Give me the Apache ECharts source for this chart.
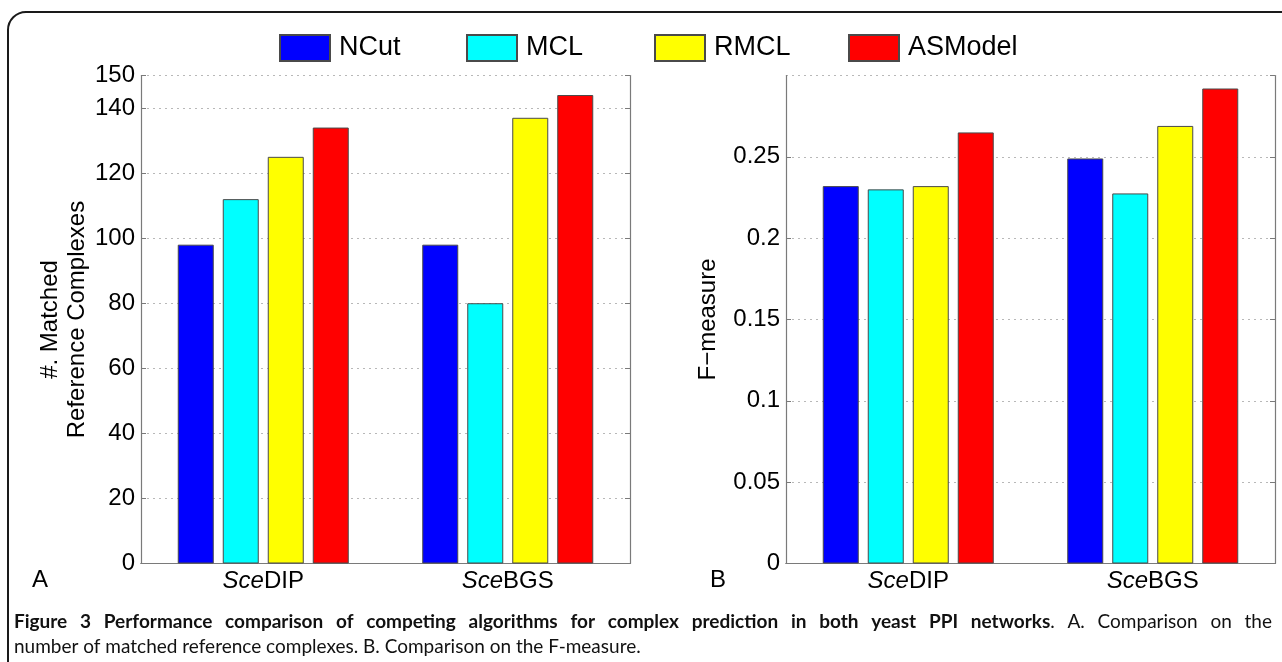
<!DOCTYPE html>
<html>
<head>
<meta charset="utf-8">
<script src="https://cdn.jsdelivr.net/npm/echarts@6/dist/echarts.min.js"></script>
<style>
html,body{margin:0;padding:0;background:#fff;}
#chart{width:1282px;height:662px;}
</style>
</head>
<body>
<div id="chart"></div>
<script>
// ---- data ----
const categories = ['SceDIP', 'SceBGS'];
const seriesNames = ['NCut', 'MCL', 'RMCL', 'ASModel'];
const seriesColors = ['#0000FF', '#00FFFF', '#FFFF00', '#FF0000'];
// Panel A: # matched reference complexes
const matchedNCut = [98, 98];
const matchedMCL = [112, 80];
const matchedRMCL = [125, 137];
const matchedASModel = [134, 144];
// Panel B: F-measure
const fNCut = [0.232, 0.249];
const fMCL = [0.230, 0.2275];
const fRMCL = [0.232, 0.269];
const fASModel = [0.265, 0.292];

const captionBold = 'Figure 3 Performance comparison of competing algorithms for complex prediction in both yeast PPI networks';
const captionRest1 = '. A. Comparison on the';
const captionLine2 = 'number of matched reference complexes. B. Comparison on the F-measure.';

// ---- chart ----
const chart = echarts.init(document.getElementById('chart'), null, {renderer: 'canvas'});
const FONT = '"Liberation Sans", Arial, Helvetica, sans-serif';
const axisGray = '#7a7a7a';

const grids = [
  {left: 141, top: 75.5, width: 489, height: 488},
  {left: 786, top: 75.5, width: 489, height: 488}
];

function catLabel(v) {
  return '{i|' + v.slice(0, 3) + '}{n|' + v.slice(3) + '}';
}
const richCat = {
  i: {fontStyle: 'italic', fontFamily: FONT, fontSize: 24, color: '#000'},
  n: {fontFamily: FONT, fontSize: 24, color: '#000'}
};

const xAxes = [];
const yAxes = [];
[0, 1].forEach(g => {
  xAxes.push({
    type: 'category', gridIndex: g, data: categories, position: 'bottom',
    axisLine: {lineStyle: {color: axisGray, width: 1.2}},
    axisTick: {inside: true, alignWithLabel: true, length: 5, lineStyle: {color: axisGray}},
    axisLabel: {formatter: catLabel, rich: richCat, margin: 6}
  });
  xAxes.push({
    type: 'category', gridIndex: g, data: categories, position: 'top',
    axisLine: {lineStyle: {color: axisGray, width: 1.2}},
    axisTick: {inside: true, alignWithLabel: true, length: 5, lineStyle: {color: axisGray}},
    axisLabel: {show: false}
  });
});

const yCommon = {
  axisLine: {show: true, lineStyle: {color: axisGray, width: 1.2}},
  axisTick: {show: true, inside: true, length: 5, lineStyle: {color: axisGray}},
  axisLabel: {color: '#000', fontFamily: FONT, fontSize: 24, margin: 6}
};
// panel A
yAxes.push(Object.assign({}, yCommon, {
  type: 'value', gridIndex: 0, position: 'left', min: 0, max: 150, interval: 20,
  name: '#. Matched\nReference Complexes', nameLocation: 'middle', nameGap: 50,
  nameTextStyle: {fontFamily: FONT, fontSize: 24, color: '#000', lineHeight: 27},
  splitLine: {show: true, lineStyle: {color: '#b8b8b8', type: [2, 4], width: 1}}
}));
yAxes.push(Object.assign({}, yCommon, {
  type: 'value', gridIndex: 0, position: 'right', min: 0, max: 150, interval: 20,
  axisLabel: {show: false}, splitLine: {show: false}
}));
// panel B
yAxes.push(Object.assign({}, yCommon, {
  type: 'value', gridIndex: 1, position: 'left', min: 0, max: 0.3, interval: 0.05,
  axisLabel: Object.assign({}, yCommon.axisLabel, {showMaxLabel: false}),
  name: 'F\u2212measure', nameLocation: 'middle', nameGap: 66,
  nameTextStyle: {fontFamily: FONT, fontSize: 24, color: '#000'},
  splitLine: {show: true, lineStyle: {color: '#b8b8b8', type: [2, 4], width: 1}}
}));
yAxes.push(Object.assign({}, yCommon, {
  type: 'value', gridIndex: 1, position: 'right', min: 0, max: 0.3, interval: 0.05,
  axisLabel: {show: false}, splitLine: {show: false}
}));

const panelA = [matchedNCut, matchedMCL, matchedRMCL, matchedASModel];
const panelB = [fNCut, fMCL, fRMCL, fASModel];
const series = [];
[panelA, panelB].forEach((panel, g) => {
  panel.forEach((vals, i) => {
    series.push({
      type: 'bar', name: seriesNames[i], data: vals,
      xAxisIndex: g * 2, yAxisIndex: g * 2,
      barWidth: 36, barGap: '25%',
      itemStyle: {color: seriesColors[i], borderColor: '#4a4a4a', borderWidth: 1},
      emphasis: {disabled: true}
    });
  });
});

const legendLefts = [274, 461, 649, 843];
const legends = seriesNames.map((n, i) => ({
  data: [n], left: legendLefts[i], top: 29,
  itemWidth: 50, itemHeight: 26, itemGap: 0,
  icon: 'rect',
  textStyle: {fontFamily: FONT, fontSize: 27, color: '#000', padding: [0, 0, 0, 4]},
  selectedMode: false
}));

// caption layout (justify line 1)
function measure(text, font) {
  const c = document.createElement('canvas').getContext('2d');
  c.font = font;
  return c.measureText(text).width;
}
const CAP_FONT = 'Lato, "Open Sans", sans-serif';
const CAP_SIZE = 19;
const capLeft = 14, capRight = 1272;
const capGraphics = [];
(function () {
  const words = [];
  captionBold.split(' ').forEach(w => words.push({t: w, b: true}));
  // attach '.' to last bold word as normal text
  const rest = captionRest1.trim().split(' ');
  // first token '.' glued to 'networks'
  words.push({t: rest[0], b: false, glue: true});
  rest.slice(1).forEach(w => words.push({t: w, b: false}));
  const fontB = 'bold ' + CAP_SIZE + 'px ' + CAP_FONT;
  const fontN = CAP_SIZE + 'px ' + CAP_FONT;
  let total = 0; let gaps = 0;
  words.forEach((w, k) => {
    w.w = measure(w.t, w.b ? fontB : fontN);
    total += w.w;
    if (k > 0 && !w.glue) gaps++;
  });
  const gapW = (capRight - capLeft - total) / gaps;
  let x = capLeft;
  words.forEach((w, k) => {
    if (k > 0 && !w.glue) x += gapW;
    capGraphics.push({
      type: 'text', left: x, top: 612,
      style: {text: w.t, font: (w.b ? fontB : fontN), fill: '#111'}
    });
    x += w.w;
  });
  capGraphics.push({
    type: 'text', left: capLeft, top: 637,
    style: {text: captionLine2, font: fontN, fill: '#111'}
  });
})();

const option = {
  animation: false,
  backgroundColor: '#fff',
  grid: grids,
  xAxis: xAxes,
  yAxis: yAxes,
  legend: legends,
  series: series,
  graphic: [
    {type: 'rect', shape: {x: 8, y: 12, width: 1320, height: 720, r: 18},
     style: {fill: 'none', stroke: '#1a1a1a', lineWidth: 2}, silent: true},
    {type: 'text', left: 32, top: 568, style: {text: 'A', font: '24px ' + FONT, fill: '#000'}},
    {type: 'text', left: 710, top: 568, style: {text: 'B', font: '24px ' + FONT, fill: '#000'}}
  ].concat(capGraphics)
};
chart.setOption(option);
</script>
</body>
</html>
